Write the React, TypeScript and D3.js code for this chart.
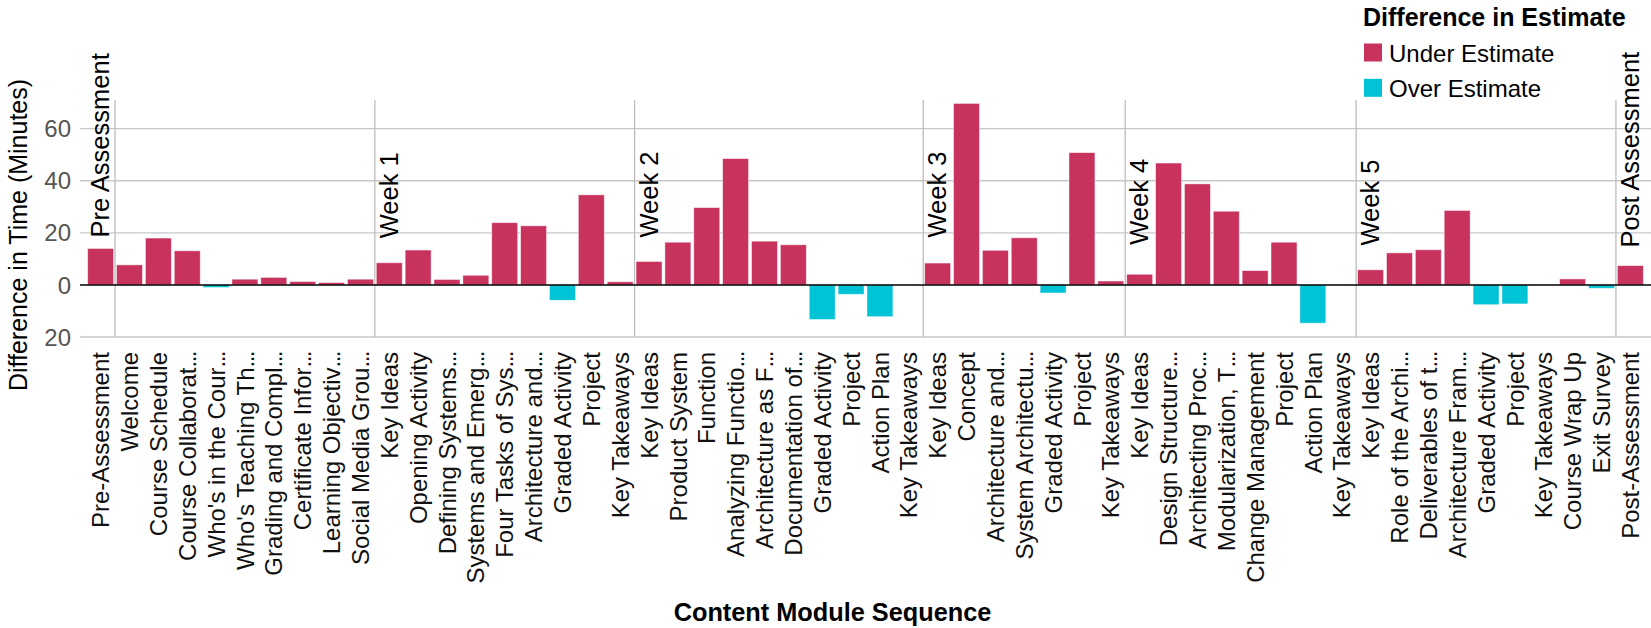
import React from "react";
import * as d3 from "d3";

const W = 1651;
const H = 628;

const moduleNames: string[] = [
  "Pre-Assessment", "Welcome", "Course Schedule", "Course Collaborat…", "Who's in the Cour…",
  "Who's Teaching Th…", "Grading and Compl…", "Certificate Infor…", "Learning Objectiv…", "Social Media Grou…",
  "Key Ideas", "Opening Activity", "Defining Systems…", "Systems and Emerg…", "Four Tasks of Sys…",
  "Architecture and…", "Graded Activity", "Project", "Key Takeaways",
  "Key Ideas", "Product System", "Function", "Analyzing Functio…", "Architecture as F…",
  "Documentation of…", "Graded Activity", "Project", "Action Plan", "Key Takeaways",
  "Key Ideas", "Concept", "Architecture and…", "System Architectu…", "Graded Activity", "Project", "Key Takeaways",
  "Key Ideas", "Design Structure…", "Architecting Proc…", "Modularization, T…", "Change Management",
  "Project", "Action Plan", "Key Takeaways",
  "Key Ideas", "Role of the Archi…", "Deliverables of t…", "Architecture Fram…", "Graded Activity",
  "Project", "Key Takeaways", "Course Wrap Up", "Exit Survey",
  "Post-Assessment",
];

const differenceMinutes: number[] = [
  14, 7.7, 18, 13.1, -1, 2.2, 2.9, 1.3, 0.9, 2.2,
  8.5, 13.4, 2.1, 3.7, 23.9, 22.7, -5.9, 34.6, 1.2,
  9.0, 16.4, 29.7, 48.5, 16.8, 15.4, -13.3, -3.6, -12.2, 0,
  8.4, 69.7, 13.3, 18.1, -3.1, 50.8, 1.5,
  4.1, 46.8, 38.8, 28.3, 5.5, 16.4, -14.7, 0,
  5.8, 12.3, 13.5, 28.6, -7.6, -7.3, 0, 2.3, -1.3,
  7.4,
];

const groupLabels: string[] = ["Pre Assessment", "Week 1", "Week 2", "Week 3", "Week 4", "Week 5", "Post Assessment"];
const groupLabelStart: number[] = [0, 10, 19, 29, 36, 44, 53];
const groupLabelAt: number[] = [18.2, 17.9, 18.2, 18.2, 15.4, 15.1, 14.4];
const ruleStarts: number[] = [1, 10, 19, 29, 36, 44, 53];

const yTicks: number[] = [-20, 0, 20, 40, 60];
const legendLabels: string[] = ["Under Estimate", "Over Estimate"];
const legendColors: string[] = ["#c8335e", "#00c3d6"];

const FONT = "'Liberation Sans', Arial, Helvetica, sans-serif";

function Label({ text }: { text: string }) {
  if (text.endsWith("…")) {
    return (
      <>
        {text.slice(0, -1)}
        <tspan letterSpacing="-1.5">...</tspan>
      </>
    );
  }
  return <>{text}</>;
}

export default function App() {
  const idx = moduleNames.map((_, i) => i);
  const x = d3.scaleBand<number>().domain(idx).range([79, 1652]).paddingInner(0.1).paddingOuter(0.3);
  const y = d3.scaleLinear().domain([-20, 71]).range([337, 100]);
  const gap = x.step() - x.bandwidth();
  const plotLeft = 80;
  const plotRight = W;

  return (
    <div style={{ position: "absolute", left: 0, top: 0 }}>
      <svg width={W} height={H} style={{ display: "block", background: "#fff" }} fontFamily={FONT}>
        {yTicks.filter((t) => t !== 0).map((t) => (
          <line key={"g" + t} x1={plotLeft} x2={plotRight} y1={y(t)} y2={y(t)} stroke="#c8c8c8" strokeWidth={1.3} />
        ))}
        {yTicks.map((t) => (
          <text key={"t" + t} x={71} y={y(t)} dy="0.36em" textAnchor="end" fontSize={24} fill="#555">
            {d3.format("d")(Math.abs(t))}
          </text>
        ))}
        {ruleStarts.map((s) => (
          <line key={"r" + s} x1={(x(s) as number) - gap / 2} x2={(x(s) as number) - gap / 2} y1={y(71)} y2={y(-20)} stroke="#bdbdbd" strokeWidth={1.3} />
        ))}
        {differenceMinutes.map((v, i) => (
          <rect
            key={"b" + i}
            x={x(i)}
            width={x.bandwidth()}
            y={y(Math.max(0, v))}
            height={Math.abs(y(v) - y(0))}
            fill={v >= 0 ? legendColors[0] : legendColors[1]}
            stroke="#ffffff"
            strokeOpacity={0.6}
            strokeWidth={0.8}
          />
        ))}
        <line x1={plotLeft} x2={plotRight} y1={y(0)} y2={y(0)} stroke="#000" strokeWidth={1.5} />
        {groupLabels.map((g, k) => {
          const gx = (x(groupLabelStart[k]) as number) + 21.5;
          const gy = y(groupLabelAt[k]);
          return (
            <text key={"gl" + k} transform={`translate(${gx},${gy}) rotate(-90)`} fontSize={25.5} fill="#000">
              {g}
            </text>
          );
        })}
        {moduleNames.map((n, i) => {
          const cx = (x(i) as number) + x.bandwidth() / 2;
          return (
            <text key={"xl" + i} transform={`translate(${cx},${352}) rotate(-90)`} textAnchor="end" dy="0.36em" fontSize={24} fill="#111">
              <Label text={n} />
            </text>
          );
        })}
        <text x={832.5} y={621} textAnchor="middle" fontSize={25.3} fontWeight="bold" fill="#000">
          Content Module Sequence
        </text>
        <text transform={`translate(27,235) rotate(-90)`} textAnchor="middle" fontSize={25} fill="#000">
          Difference in Time (Minutes)
        </text>
        <text x={1363} y={26} fontSize={25} fontWeight="bold" fill="#000">
          Difference in Estimate
        </text>
        {legendLabels.map((l, k) => (
          <g key={"lg" + k}>
            <rect x={1364} y={43.5 + k * 35.3} width={18} height={18} fill={legendColors[k]} />
            <text x={1389} y={61.5 + k * 35.3} fontSize={24} fill="#000">
              {l}
            </text>
          </g>
        ))}
      </svg>
    </div>
  );
}
